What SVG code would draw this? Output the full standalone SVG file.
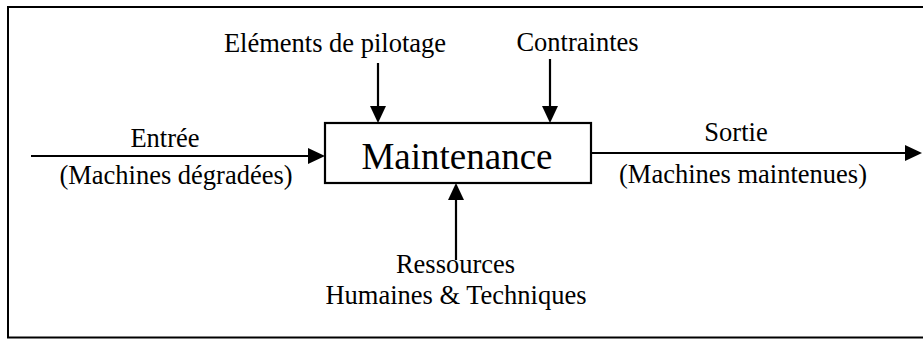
<svg xmlns="http://www.w3.org/2000/svg" width="923" height="340" viewBox="0 0 923 340">
<style>
text{font-family:"Liberation Serif","Times New Roman",serif;fill:#000;font-size:26.5px}
.big{font-size:37px}
.ln{stroke:#000;stroke-width:2.2;fill:none}
</style>
<defs>
<marker id="ah" viewBox="0 0 17 16" refX="9" refY="8" markerWidth="17" markerHeight="16" markerUnits="userSpaceOnUse" orient="auto">
<path d="M0,0 L17,8 L0,16 Z" fill="#000"/>
</marker>
</defs>
<rect x="0" y="0" width="923" height="340" fill="#fff"/>
<rect id="frame" x="8" y="7" width="930" height="330.5" fill="none" stroke="#000" stroke-width="2"/>
<g id="connectors">
<path class="ln" d="M31,156 H317" marker-end="url(#ah)"/>
<path class="ln" d="M591,153 H914" marker-end="url(#ah)"/>
<path class="ln" d="M378,63 V115" marker-end="url(#ah)"/>
<path class="ln" d="M550,59 V115" marker-end="url(#ah)"/>
<path class="ln" d="M456,260 V191" marker-end="url(#ah)"/>
</g>
<g id="maintenance">
<rect x="325" y="123" width="266" height="60" fill="none" stroke="#000" stroke-width="2.2"/>
<text class="big" x="457" y="169" text-anchor="middle">Maintenance</text>
</g>
<g id="pilotage">
<text x="335" y="52" text-anchor="middle">Eléments de pilotage</text>
</g>
<g id="contraintes">
<text x="577.5" y="51" text-anchor="middle">Contraintes</text>
</g>
<g id="entree">
<text x="165" y="147" text-anchor="middle">Entrée</text>
<text x="176" y="184" text-anchor="middle">(Machines dégradées)</text>
</g>
<g id="sortie">
<text x="736" y="141" text-anchor="middle">Sortie</text>
<text x="743" y="183" text-anchor="middle">(Machines maintenues)</text>
</g>
<g id="ressources">
<text x="455.5" y="273" text-anchor="middle">Ressources</text>
<text x="456" y="304" text-anchor="middle">Humaines &amp; Techniques</text>
</g>
</svg>
